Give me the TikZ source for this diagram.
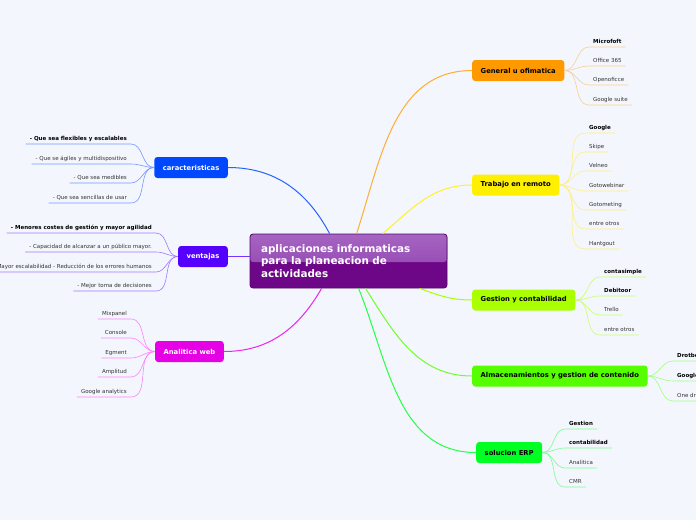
\documentclass[tikz,border=0pt]{standalone}
\usepackage{fontspec}
\setmainfont{DejaVu Sans}
\definecolor{bg}{RGB}{243,246,253}
\definecolor{cBlue}{RGB}{0,72,255}
\definecolor{cViolet}{RGB}{85,0,255}
\definecolor{cMag}{RGB}{230,0,230}
\definecolor{cOrange}{RGB}{255,153,0}
\definecolor{cYellow}{RGB}{255,240,0}
\definecolor{cYG}{RGB}{170,255,0}
\definecolor{cGreen}{RGB}{85,255,0}
\definecolor{cGreenB}{RGB}{0,255,34}
\definecolor{lBlue}{RGB}{120,150,255}
\definecolor{lViolet}{RGB}{160,120,255}
\definecolor{lMag}{RGB}{255,130,255}
\definecolor{lOrange}{RGB}{255,204,140}
\definecolor{lYellow}{RGB}{255,240,130}
\definecolor{lYG}{RGB}{200,255,110}
\definecolor{lGreen}{RGB}{160,255,130}
\definecolor{lGreenB}{RGB}{120,255,140}
\definecolor{hubTop}{RGB}{166,100,194}
\definecolor{hubMid}{RGB}{140,60,170}
\definecolor{hubBot}{RGB}{110,6,136}
\definecolor{hubLine}{RGB}{80,10,100}
\definecolor{leafText}{RGB}{50,50,50}
\newcommand{\rleaf}[6]{%
  \node[leafnode, anchor=south west] (#1) at (#3,-#4) {#6};
  \draw[#5, leafline] (#2.east) to[out=0,in=180] (#1.south west) -- (#1.south east);}
\newcommand{\lleaf}[6]{%
  \node[leafnode, anchor=south east] (#1) at (#3,-#4) {#6};
  \draw[#5, leafline] (#2.west) to[out=180,in=0] (#1.south east) -- (#1.south west);}
\begin{document}
\begin{tikzpicture}[x=1pt,y=1pt,
  mainnode/.style={rounded corners=3pt, inner xsep=8.5pt, minimum height=21pt,
    font=\fontsize{6.8}{8}\selectfont\bfseries},
  leafnode/.style={inner xsep=4pt, inner ysep=2.5pt, text height=4pt, text depth=1.2pt,
    font=\fontsize{5.5}{6}\selectfont, text=leafText},
  bl/.style={font=\fontsize{5.5}{6}\selectfont\bfseries, text=black},
  leafline/.style={line width=0.6pt},
  branch/.style={line width=1pt}]
\useasboundingbox (0,0) rectangle (696,-520);
\fill[bg] (0,0) rectangle (696,-520);

% hub
\node[draw=hubLine, line width=0.8pt, rounded corners=3pt, fill=hubBot,
  minimum width=197pt, minimum height=54pt, text width=175pt, align=left,
  inner xsep=11pt, text=white,
  font=\fontsize{10.4}{12.5}\selectfont\bfseries,
  path picture={\fill[top color=hubTop, bottom color=hubMid]
    (path picture bounding box.north west) rectangle
    ([yshift=-1pt]path picture bounding box.east);}]
  (c) at (348.5,-261) {aplicaciones informaticas\\para la planeacion de\\actividades};

% main nodes
\node[mainnode, anchor=east, fill=cBlue, text=white] (car) at (228,-167.5) {caracteristicas};
\node[mainnode, anchor=east, fill=cViolet, text=white] (ven) at (228,-256.5) {ventajas};
\node[mainnode, anchor=east, fill=cMag, text=white] (ana) at (224,-351.5) {Analitica web};
\node[mainnode, anchor=west, fill=cOrange] (gen) at (472,-70.5) {General u ofimatica};
\node[mainnode, anchor=west, fill=cYellow] (tra) at (472,-185) {Trabajo en remoto};
\node[mainnode, anchor=west, fill=cYG] (ges) at (472,-300) {Gestion y contabilidad};
\node[mainnode, anchor=west, fill=cGreen] (alm) at (472,-376) {Almacenamientos y gestion de contenido};
\node[mainnode, anchor=west, fill=cGreenB] (erp) at (476,-452.5) {solucion ERP};

% branches
\begin{scope}[on background layer/.style={}]
\draw[branch, cBlue!85!white] ([xshift=80pt]c.north west) to[out=118,in=0] (car.east);
\draw[branch, cViolet!80!white] (ven.east) -- (ven.east -| c.west);
\draw[branch, cMag!85!white] ([xshift=72pt]c.south west) to[out=240,in=0] (ana.east);
\draw[branch, cOrange!80!white] ([xshift=107pt]c.north west) to[out=72,in=180] (gen.west);
\draw[branch, cYellow!85!white] ([xshift=133pt]c.north west) to[out=40,in=180] (tra.west);
\draw[branch, cYG] ([xshift=170pt]c.south west) to[out=-20,in=180] (ges.west);
\draw[branch, cGreen!85!white] ([xshift=116pt]c.south west) to[out=-58,in=180] (alm.west);
\draw[branch, cGreenB!85!white] ([xshift=109pt]c.south west) to[out=-68,in=180] (erp.west);
\end{scope}

% right leaves
\rleaf{g1}{gen}{589}{47}{lOrange}{\textbf{\color{black}Microfoft}}
\rleaf{g2}{gen}{589}{66}{lOrange}{Office 365}
\rleaf{g3}{gen}{589}{85}{lOrange}{Openoficce}
\rleaf{g4}{gen}{589}{105}{lOrange}{Google suite}

\rleaf{t1}{tra}{585}{133}{lYellow}{\textbf{\color{black}Google}}
\rleaf{t2}{tra}{585}{152}{lYellow}{Skipe}
\rleaf{t3}{tra}{585}{171}{lYellow}{Velneo}
\rleaf{t4}{tra}{585}{191}{lYellow}{Gotowebinar}
\rleaf{t5}{tra}{585}{210}{lYellow}{Gotometing}
\rleaf{t6}{tra}{585}{229}{lYellow}{entre otros}
\rleaf{t7}{tra}{585}{249}{lYellow}{Hantgout}

\rleaf{s1}{ges}{600}{277}{lYG}{\textbf{\color{black}contasimple}}
\rleaf{s2}{ges}{600}{296}{lYG}{\textbf{\color{black}Debitoor}}
\rleaf{s3}{ges}{600}{315}{lYG}{Trello}
\rleaf{s4}{ges}{600}{335}{lYG}{entre otros}

\rleaf{a1}{alm}{673}{361}{lGreen}{\textbf{\color{black}Drotbox}}
\rleaf{a2}{alm}{673}{381}{lGreen}{\textbf{\color{black}Google drive}}
\rleaf{a3}{alm}{673}{401}{lGreen}{One drive}

\rleaf{e1}{erp}{565}{429}{lGreenB}{\textbf{\color{black}Gestion}}
\rleaf{e2}{erp}{565}{448}{lGreenB}{\textbf{\color{black}contabilidad}}
\rleaf{e3}{erp}{565}{468}{lGreenB}{Analitica}
\rleaf{e4}{erp}{565}{487}{lGreenB}{CMR}

% left leaves
\lleaf{c1}{car}{131}{144}{lBlue}{\textbf{\color{black}- Que sea flexibles y escalables}}
\lleaf{c2}{car}{131}{164}{lBlue}{- Que se ágiles y multidispositivo}
\lleaf{c3}{car}{131}{183}{lBlue}{- Que sea medibles}
\lleaf{c4}{car}{131}{203}{lBlue}{- Que sea sencillas de usar}

\lleaf{v1}{ven}{156}{233}{lViolet}{\textbf{\color{black}- Menores costes de gestión y mayor agilidad}}
\lleaf{v2}{ven}{156}{252}{lViolet}{- Capacidad de alcanzar a un público mayor.}
\lleaf{v3}{ven}{156}{272}{lViolet}{- Mayor escalabilidad - Reducción de los errores humanos}
\lleaf{v4}{ven}{156}{291}{lViolet}{- Mejor toma de decisiones}

\lleaf{w1}{ana}{131}{319}{lMag}{Mixpanel}
\lleaf{w2}{ana}{131}{338}{lMag}{Console}
\lleaf{w3}{ana}{131}{358}{lMag}{Egment}
\lleaf{w4}{ana}{131}{377}{lMag}{Amplitud}
\lleaf{w5}{ana}{131}{397}{lMag}{Google analytics}
\end{tikzpicture}
\end{document}
